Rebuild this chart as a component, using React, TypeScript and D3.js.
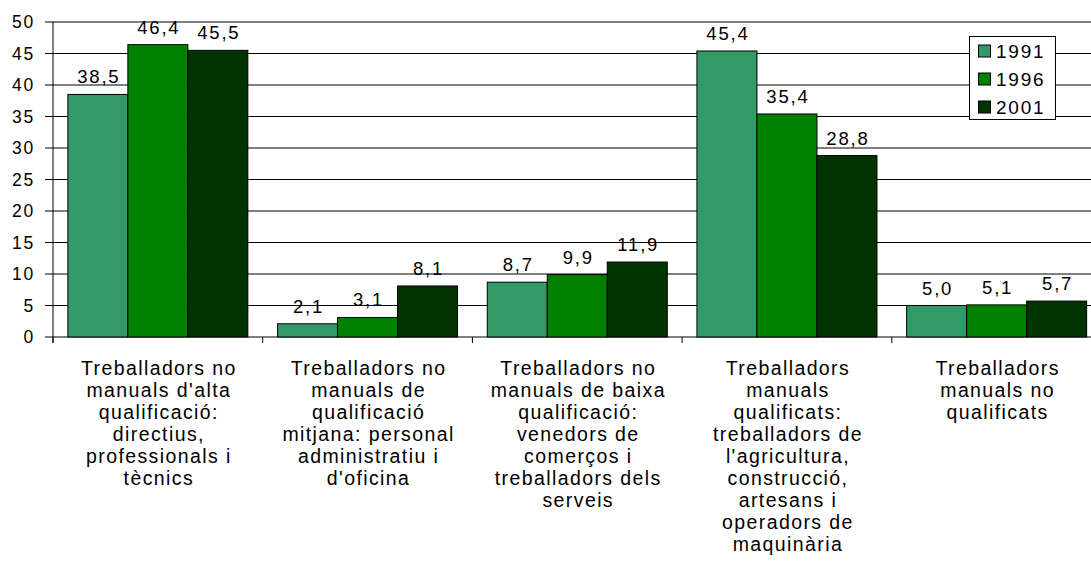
import React, { useEffect, useRef } from 'react';
import * as d3 from 'd3';

const CATEGORIES = [
  ['Treballadors no', "manuals d'alta", 'qualificació:', 'directius,', 'professionals i', 'tècnics'],
  ['Treballadors no', 'manuals de', 'qualificació', 'mitjana: personal', 'administratiu i', "d'oficina"],
  ['Treballadors no', 'manuals de baixa', 'qualificació:', 'venedors de', 'comerços i', 'treballadors dels', 'serveis'],
  ['Treballadors', 'manuals', 'qualificats:', 'treballadors de', "l'agricultura,", 'construcció,', 'artesans i', 'operadors de', 'maquinària'],
  ['Treballadors', 'manuals no', 'qualificats'],
];

const YEARS = ['1991', '1996', '2001'];
const VALUES_1991 = [38.5, 2.1, 8.7, 45.4, 5.0];
const VALUES_1996 = [46.4, 3.1, 9.9, 35.4, 5.1];
const VALUES_2001 = [45.5, 8.1, 11.9, 28.8, 5.7];
const SERIES = [VALUES_1991, VALUES_1996, VALUES_2001];
const Y_TICKS = [0, 5, 10, 15, 20, 25, 30, 35, 40, 45, 50];

const COLORS = ['#339966', '#008000', '#003300'];
const FONT = '"Liberation Sans", Arial, sans-serif';

const fmt = (v: number) => d3.format('.1f')(v).replace('.', ',');

export default function App() {
  const ref = useRef<SVGSVGElement | null>(null);

  useEffect(() => {
    const svg = d3.select(ref.current);
    svg.selectAll('*').remove();

    const left = 53;
    const right = 1101.5;
    const top = 22;
    const bottom = 337;

    const y = d3.scaleLinear().domain([0, 50]).range([bottom, top]);
    const ids = CATEGORIES.map((_, i) => String(i));
    const x = d3.scaleBand().domain(ids).range([left, right]).paddingInner(0.1416).paddingOuter(0.0708);
    const step = x.step();
    const xi = d3.scaleBand().domain(YEARS).range([0, x.bandwidth()]).padding(0);

    // gridlines
    svg.append('g')
      .selectAll('line')
      .data(Y_TICKS.filter((t) => t > 0))
      .join('line')
      .attr('x1', left)
      .attr('x2', right)
      .attr('y1', (d) => y(d))
      .attr('y2', (d) => y(d))
      .attr('stroke', '#000')
      .attr('stroke-width', 1);

    // y axis
    const ya = svg.append('g');
    ya.append('line')
      .attr('x1', left).attr('x2', left)
      .attr('y1', y(50)).attr('y2', bottom + 6)
      .attr('stroke', '#000');
    ya.selectAll('line.tk')
      .data(Y_TICKS)
      .join('line')
      .attr('class', 'tk')
      .attr('x1', left - 8).attr('x2', left)
      .attr('y1', (d) => y(d)).attr('y2', (d) => y(d))
      .attr('stroke', '#000');
    ya.selectAll('text')
      .data(Y_TICKS)
      .join('text')
      .attr('x', left - 18)
      .attr('y', (d) => y(d))
      .attr('dy', '0.36em')
      .attr('text-anchor', 'end')
      .attr('font-family', FONT)
      .attr('font-size', 17.5)
      .attr('letter-spacing', '1.8px')
      .attr('fill', '#000')
      .text((d) => d);

    // x axis line and group ticks
    svg.append('line')
      .attr('x1', left).attr('x2', right)
      .attr('y1', bottom).attr('y2', bottom)
      .attr('stroke', '#000');
    svg.append('g')
      .selectAll('line')
      .data(d3.range(CATEGORIES.length + 1))
      .join('line')
      .attr('x1', (i) => left + i * step)
      .attr('x2', (i) => left + i * step)
      .attr('y1', bottom)
      .attr('y2', bottom + 6)
      .attr('stroke', '#000');

    // bars
    const groups = svg.append('g')
      .selectAll('g')
      .data(ids)
      .join('g')
      .attr('transform', (d) => `translate(${x(d)},0)`);

    groups.each(function (id) {
      const ci = +id;
      const g = d3.select(this);
      YEARS.forEach((yr, si) => {
        const v = SERIES[si][ci];
        const bx = xi(yr)!;
        g.append('rect')
          .attr('x', bx)
          .attr('y', y(v))
          .attr('width', xi.bandwidth())
          .attr('height', bottom - y(v))
          .attr('fill', COLORS[si])
          .attr('stroke', '#000')
          .attr('stroke-width', 1);
        g.append('text')
          .attr('x', bx + xi.bandwidth() / 2 + 1)
          .attr('y', y(v) - 11)
          .attr('text-anchor', 'middle')
          .attr('font-family', FONT)
          .attr('font-size', 18.5)
          .attr('letter-spacing', '1.8px')
          .attr('fill', '#000')
          .text(fmt(v));
      });
    });

    // category labels
    svg.append('g')
      .selectAll('text')
      .data(CATEGORIES)
      .join('text')
      .attr('x', (_, i) => x(String(i))! + x.bandwidth() / 2 + 1)
      .attr('y', 375)
      .attr('text-anchor', 'middle')
      .attr('font-family', FONT)
      .attr('font-size', 19.5)
      .attr('letter-spacing', '1.4px')
      .attr('fill', '#000')
      .each(function (lines) {
        const t = d3.select(this);
        lines.forEach((ln, k) => {
          t.append('tspan')
            .attr('x', t.attr('x'))
            .attr('y', 375 + k * 22)
            .text(ln);
        });
      });

    // legend
    const lg = svg.append('g');
    lg.append('rect')
      .attr('x', 969.5).attr('y', 36.5)
      .attr('width', 86).attr('height', 83)
      .attr('fill', '#fff')
      .attr('stroke', '#000');
    YEARS.forEach((yr, si) => {
      const cy = 51 + si * 28;
      lg.append('rect')
        .attr('x', 978.5).attr('y', cy - 6)
        .attr('width', 12).attr('height', 12)
        .attr('fill', COLORS[si])
        .attr('stroke', '#000');
      lg.append('text')
        .attr('x', 996)
        .attr('y', cy)
        .attr('dy', '0.36em')
        .attr('font-family', FONT)
        .attr('font-size', 19)
        .attr('letter-spacing', '1.8px')
        .attr('fill', '#000')
        .text(yr);
    });
  }, []);

  return (
    <svg
      ref={ref}
      width={1091}
      height={569}
      style={{ position: 'absolute', left: 0, top: 0, background: '#fff' }}
    />
  );
}
